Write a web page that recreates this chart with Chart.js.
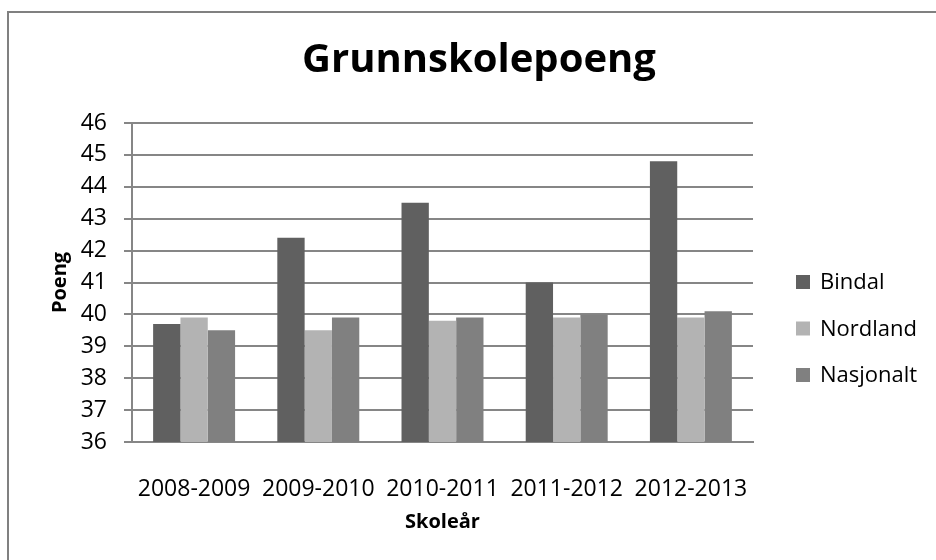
<!DOCTYPE html>
<html>
<head>
<meta charset="utf-8">
<script src="https://cdn.jsdelivr.net/npm/chart.js@4/dist/chart.umd.min.js"></script>
<style>
  html, body { margin: 0; padding: 0; background: #fff; }
  #wrap { width: 936px; height: 560px; }
</style>
</head>
<body>
<div id="wrap"><canvas id="c" width="936" height="560"></canvas></div>
<script>
const categories = ['2008-2009', '2009-2010', '2010-2011', '2011-2012', '2012-2013']
const bindal = [39.7, 42.4, 43.5, 41.0, 44.8]
const nordland = [39.9, 39.5, 39.8, 39.9, 39.9]
const nasjonalt = [39.5, 39.9, 39.9, 40.0, 40.1]
const titleText = 'Grunnskolepoeng'

const gridColor = '#868686'
Chart.defaults.font.family = "'Open Sans', sans-serif"
Chart.defaults.color = '#000'

// frame, title and legend drawn by hand, like the spreadsheet export
const decor = {
  id: 'decor',
  beforeDraw(chart) {
    const ctx = chart.ctx
    ctx.save()
    ctx.fillStyle = '#fff'
    ctx.fillRect(0, 0, chart.width, chart.height)
    ctx.strokeStyle = '#808080'
    ctx.lineWidth = 2
    ctx.beginPath()
    ctx.moveTo(8, chart.height)
    ctx.lineTo(8, 12)
    ctx.lineTo(chart.width, 12)
    ctx.stroke()
    ctx.restore()
  },
  afterDraw(chart) {
    const ctx = chart.ctx
    ctx.save()
    ctx.fillStyle = '#000'
    ctx.font = "bold 40px 'Open Sans', sans-serif"
    ctx.textAlign = 'center'
    ctx.textBaseline = 'alphabetic'
    ctx.fillText(titleText, 479, 72)

    ctx.font = "22px 'Open Sans', sans-serif"
    ctx.textAlign = 'left'
    ctx.textBaseline = 'middle'
    chart.data.datasets.forEach((ds, i) => {
      const y = 282 + i * 46.5
      ctx.fillStyle = ds.backgroundColor
      ctx.fillRect(796, y - 7, 14, 14)
      ctx.fillStyle = '#000'
      ctx.fillText(ds.label, 820, y + 1)
    })
    ctx.restore()
  }
}

new Chart(document.getElementById('c'), {
  type: 'bar',
  data: {
    labels: categories,
    datasets: [{
      label: 'Bindal',
      data: bindal,
      backgroundColor: '#606060',
    }, {
      label: 'Nordland',
      data: nordland,
      backgroundColor: '#b3b3b3',
    }, {
      label: 'Nasjonalt',
      data: nasjonalt,
      backgroundColor: '#808080',
    }]
  },
  options: {
    responsive: false,
    animation: false,
    layout: {
      padding: { top: 123, right: 183, bottom: 0, left: 0 }
    },
    datasets: {
      bar: {
        categoryPercentage: 0.66,
        barPercentage: 1,
        borderWidth: 0,
      }
    },
    scales: {
      x: {
        afterFit: s => { s.height = 118 },
        grid: { display: false },
        border: { display: true, color: gridColor, width: 2 },
        ticks: { font: { size: 23 }, padding: 26, maxRotation: 0 },
        title: {
          display: true,
          text: 'Skoleår',
          font: { size: 20, weight: 'bold' },
          padding: { bottom: 26 }
        }
      },
      y: {
        min: 36,
        max: 46,
        afterFit: s => { s.width = 132 },
        grid: { color: gridColor, lineWidth: 2, tickLength: 8 },
        border: { display: true, color: gridColor, width: 2 },
        ticks: { stepSize: 1, font: { size: 23 }, padding: 17 },
        title: {
          display: true,
          text: 'Poeng',
          font: { size: 20, weight: 'bold' },
          padding: { top: 48 }
        }
      }
    },
    plugins: {
      legend: { display: false },
      title: { display: false },
      tooltip: { enabled: false }
    }
  },
  plugins: [decor]
})
</script>
</body>
</html>
